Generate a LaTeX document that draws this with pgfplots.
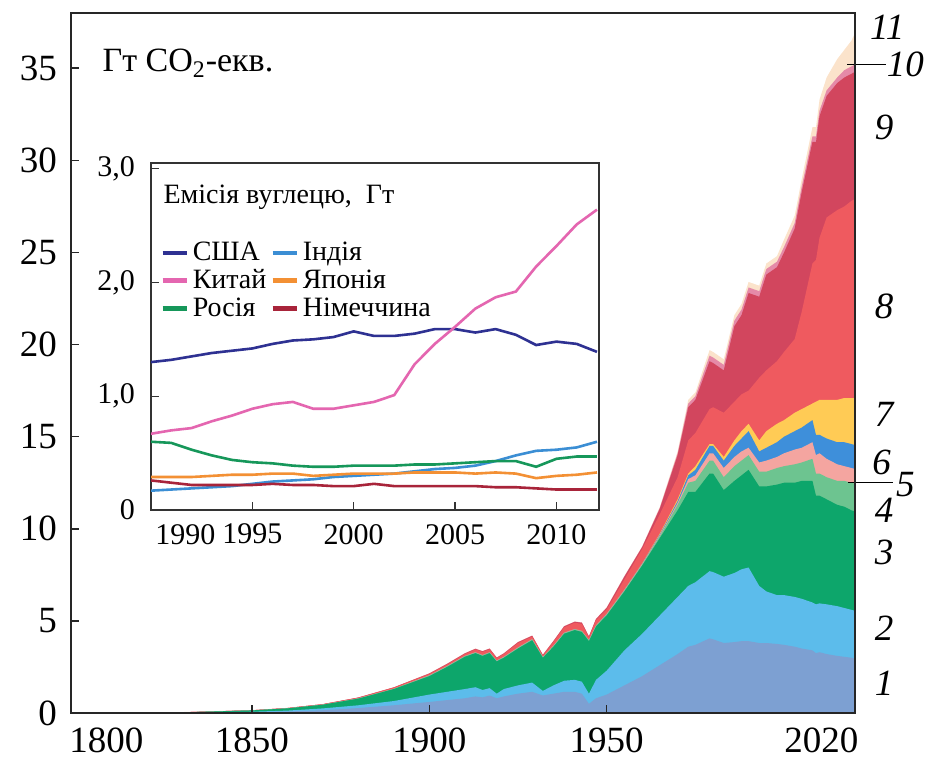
\documentclass[border=0pt]{standalone}
\usepackage{pgfplots}
\pgfplotsset{compat=1.18}
\usepackage{pgfplotstable}
\usepackage{fontspec}
\setmainfont{Liberation Serif}

\definecolor{cA}{HTML}{7DA0D2}
\definecolor{cB}{HTML}{5CBCEB}
\definecolor{cC}{HTML}{0DA66B}
\definecolor{cD}{HTML}{6DC490}
\definecolor{cE}{HTML}{F4A5A0}
\definecolor{cF}{HTML}{3E8FDA}
\definecolor{cG}{HTML}{FFCB55}
\definecolor{cH}{HTML}{EF5A5F}
\definecolor{cI}{HTML}{D2465E}
\definecolor{cJ}{HTML}{E58AA8}
\definecolor{cK}{HTML}{FBE3CB}

\definecolor{lUSA}{HTML}{2E3192}
\definecolor{lCHN}{HTML}{E466B0}
\definecolor{lRUS}{HTML}{16975A}
\definecolor{lIND}{HTML}{3B8ED4}
\definecolor{lJPN}{HTML}{F39034}
\definecolor{lGER}{HTML}{A8243A}

% cumulative upper boundaries of the 11 stacked areas (Gt CO2-eq.)
\pgfplotstableread{
year c1 c2 c3 c4 c5 c6 c7 c8 c9 c10 c11
1799 0 0 0 0 0 0 0 0 0 0 0
1830 0.01 0.02 0.03 0.03 0.03 0.03 0.03 0.04 0.04 0.04 0.05
1850 0.04 0.07 0.14 0.14 0.14 0.14 0.14 0.15 0.15 0.15 0.16
1860 0.08 0.13 0.25 0.25 0.25 0.25 0.25 0.27 0.27 0.27 0.28
1870 0.15 0.25 0.45 0.45 0.45 0.45 0.45 0.48 0.48 0.48 0.49
1880 0.27 0.42 0.78 0.79 0.79 0.79 0.79 0.83 0.84 0.84 0.85
1890 0.42 0.65 1.30 1.31 1.31 1.31 1.32 1.38 1.39 1.39 1.40
1900 0.60 1.00 2.00 2.02 2.03 2.04 2.05 2.12 2.14 2.15 2.16
1905 0.70 1.15 2.50 2.52 2.53 2.54 2.55 2.63 2.66 2.67 2.68
1910 0.80 1.30 3.05 3.07 3.08 3.09 3.10 3.20 3.23 3.24 3.25
1913 0.90 1.40 3.25 3.27 3.28 3.29 3.30 3.45 3.48 3.49 3.50
1915 0.85 1.25 3.10 3.12 3.13 3.14 3.15 3.32 3.35 3.36 3.37
1917 0.95 1.35 3.25 3.27 3.28 3.29 3.30 3.46 3.49 3.50 3.51
1919 0.80 1.05 2.80 2.82 2.83 2.84 2.85 2.98 3.00 3.01 3.02
1921 0.90 1.30 3.00 3.02 3.03 3.04 3.05 3.20 3.23 3.24 3.25
1925 1.05 1.50 3.50 3.53 3.54 3.55 3.56 3.80 3.84 3.85 3.86
1929 1.15 1.65 3.95 3.98 3.99 4.00 4.01 4.15 4.19 4.20 4.21
1932 0.95 1.20 3.00 3.02 3.03 3.04 3.05 3.12 3.15 3.16 3.17
1935 1.05 1.50 3.60 3.63 3.64 3.65 3.66 3.86 3.90 3.91 3.92
1938 1.15 1.75 4.30 4.33 4.34 4.35 4.36 4.65 4.70 4.71 4.72
1941 1.15 1.80 4.50 4.53 4.54 4.55 4.56 4.90 4.95 4.96 4.97
1943 1.05 1.70 4.40 4.43 4.44 4.45 4.46 4.84 4.90 4.91 4.92
1945 0.50 1.05 3.90 3.93 3.94 3.95 3.96 4.10 4.15 4.16 4.17
1947 0.80 1.80 4.70 4.73 4.74 4.75 4.76 5.05 5.10 5.11 5.12
1950 1.00 2.30 5.30 5.33 5.35 5.37 5.39 5.62 5.70 5.72 5.74
1955 1.50 3.40 6.60 6.64 6.66 6.68 6.70 7.25 7.40 7.42 7.45
1960 2.00 4.30 8.00 8.05 8.08 8.10 8.12 8.90 9.00 9.02 9.05
1965 2.60 5.30 9.50 9.60 9.65 9.70 9.75 10.80 11.10 11.15 11.20
1970 3.20 6.30 11.00 11.30 11.40 11.50 11.60 12.80 14.00 14.10 14.20
1973 3.60 6.90 12.00 12.50 12.70 12.90 13.00 14.80 16.60 16.80 17.00
1975 3.70 7.10 12.00 12.60 12.90 13.20 13.40 15.20 17.00 17.20 17.40
1979 4.05 7.70 13.00 13.70 14.10 14.50 14.60 16.50 19.10 19.40 19.70
1980 4.00 7.65 13.00 13.70 14.10 14.50 14.60 16.60 19.00 19.30 19.60
1983 3.80 7.40 12.10 12.80 13.30 13.70 13.90 16.30 18.60 18.90 19.20
1986 3.85 7.60 12.60 13.40 13.90 14.50 14.80 16.90 21.00 21.30 21.60
1988 3.90 7.80 12.90 13.70 14.20 14.90 15.30 17.30 21.60 21.90 22.20
1990 3.90 7.90 13.20 14.00 14.40 15.30 15.70 17.50 22.80 23.10 23.40
1993 3.80 6.90 12.30 13.10 13.60 14.20 14.80 18.20 22.60 22.90 23.20
1995 3.80 6.60 12.30 13.10 13.70 14.40 15.30 18.60 23.80 24.10 24.40
1998 3.75 6.40 12.40 13.30 13.90 14.70 15.70 19.10 24.20 24.50 24.80
2000 3.70 6.40 12.50 13.40 14.10 15.00 15.90 19.60 25.00 25.30 25.70
2003 3.60 6.30 12.50 13.50 14.30 15.30 16.30 20.30 26.30 26.60 27.00
2005 3.50 6.20 12.60 13.60 14.40 15.50 16.50 21.80 28.30 28.60 29.00
2008 3.40 6.00 12.60 13.80 14.70 15.90 16.80 24.40 31.00 31.30 31.80
2009 3.25 5.90 11.80 13.00 14.00 15.10 16.90 24.60 31.00 31.30 31.80
2010 3.30 5.95 11.80 13.00 14.10 15.10 17.00 25.80 32.40 32.70 33.30
2012 3.20 5.90 11.60 12.80 13.80 14.90 17.00 26.90 33.50 33.80 34.50
2015 3.10 5.80 11.30 12.60 13.50 14.70 17.00 27.30 34.20 34.50 35.50
2017 3.05 5.70 11.20 12.60 13.40 14.70 17.10 27.50 34.50 34.90 36.00
2019 3.00 5.60 11.00 12.50 13.30 14.60 17.10 27.80 34.70 35.10 36.50
2020 2.95 5.55 10.95 12.45 13.25 14.55 17.10 27.90 34.80 35.20 36.90
}\maintab

% inset: carbon emissions, Gt
\pgfplotstableread{
year usa china russia india japan germany
1990 1.30 0.67 0.60 0.17 0.29 0.26
1991 1.32 0.70 0.59 0.18 0.29 0.24
1992 1.35 0.72 0.53 0.19 0.29 0.22
1993 1.38 0.78 0.48 0.20 0.30 0.22
1994 1.40 0.83 0.44 0.21 0.31 0.22
1995 1.42 0.89 0.42 0.23 0.31 0.22
1996 1.46 0.93 0.41 0.25 0.32 0.23
1997 1.49 0.95 0.39 0.26 0.32 0.22
1998 1.50 0.89 0.38 0.27 0.30 0.22
1999 1.52 0.89 0.38 0.29 0.31 0.21
2000 1.57 0.92 0.39 0.30 0.32 0.21
2001 1.53 0.95 0.39 0.31 0.32 0.23
2002 1.53 1.01 0.39 0.32 0.32 0.21
2003 1.55 1.28 0.40 0.34 0.33 0.21
2004 1.59 1.46 0.40 0.36 0.33 0.21
2005 1.59 1.61 0.41 0.37 0.33 0.21
2006 1.56 1.77 0.42 0.39 0.32 0.21
2007 1.59 1.87 0.43 0.43 0.33 0.20
2008 1.54 1.92 0.43 0.48 0.32 0.20
2009 1.45 2.14 0.38 0.52 0.28 0.19
2010 1.48 2.32 0.45 0.53 0.30 0.18
2011 1.46 2.51 0.47 0.55 0.31 0.18
2012 1.39 2.64 0.47 0.60 0.33 0.18
}\insettab

\begin{document}
\begin{tikzpicture}
\begin{axis}[
  at={(0,0)}, anchor=south west,
  scale only axis, width=392pt, height=350pt,
  xmin=1799, xmax=2020, ymin=0, ymax=38,
  axis line style={line width=0.9pt, black!85},
  xtick={1850,1900,1950}, xticklabels={1850,1900,1950},
  extra x ticks={1809,2010.5}, extra x tick labels={1800,2020},
  extra x tick style={major tick length=0pt},
  ytick={0,5,10,15,20,25,30,35}, yticklabels={0,5,10,15,20,25,30,35},
  tick align=inside, major tick length=4pt,
  xtick pos=bottom, ytick pos=left,
  tick style={line width=0.8pt, black!85},
  ticklabel style={font=\fontsize{18.5}{20}\selectfont},
  yticklabel style={xshift=-3.5pt},
  xticklabel style={yshift=-4pt},
  clip=false, axis on top,
]
\addplot[fill=cK, draw=none] table[x=year,y=c11]{\maintab} \closedcycle;
\addplot[fill=cJ, draw=none] table[x=year,y=c10]{\maintab} \closedcycle;
\addplot[fill=cI, draw=none] table[x=year,y=c9]{\maintab} \closedcycle;
\addplot[fill=cH, draw=none] table[x=year,y=c8]{\maintab} \closedcycle;
\addplot[fill=cG, draw=none] table[x=year,y=c7]{\maintab} \closedcycle;
\addplot[fill=cF, draw=none] table[x=year,y=c6]{\maintab} \closedcycle;
\addplot[fill=cE, draw=none] table[x=year,y=c5]{\maintab} \closedcycle;
\addplot[fill=cD, draw=none] table[x=year,y=c4]{\maintab} \closedcycle;
\addplot[fill=cC, draw=none] table[x=year,y=c3]{\maintab} \closedcycle;
\addplot[fill=cB, draw=none] table[x=year,y=c2]{\maintab} \closedcycle;
\addplot[fill=cA, draw=none] table[x=year,y=c1]{\maintab} \closedcycle;

\node[anchor=base west, inner sep=0pt, font=\fontsize{17}{18}\selectfont] at (axis cs:1807.8,34.8) {Гт CO\textsubscript{2}-екв.};

\begin{scope}[every node/.style={font=\itshape\fontsize{18.5}{20}\selectfont}]
\node at (axis cs:2029.1,37.2) {11};
\node at (axis cs:2034.2,35.2) {10};
\node at (axis cs:2028.2,31.8) {9};
\node at (axis cs:2028.2,22.1) {8};
\node at (axis cs:2028.2,16.2) {7};
\node at (axis cs:2027.5,13.6) {6};
\node at (axis cs:2034.2,12.4) {5};
\node at (axis cs:2028.2,11.0) {4};
\node at (axis cs:2028.2,8.7) {3};
\node at (axis cs:2028.2,4.6) {2};
\node at (axis cs:2028.2,1.6) {1};
\end{scope}
\draw[line width=0.7pt] (axis cs:2017.8,35.2) -- (axis cs:2028.7,35.2);
\draw[line width=0.7pt] (axis cs:2018.0,12.5) -- (axis cs:2030.6,12.5);
\end{axis}

\begin{axis}[
  at={(40pt,101.5pt)}, anchor=south west,
  scale only axis, width=224pt, height=173.5pt,
  xmin=1990, xmax=2012.1, ymin=0, ymax=3.05,
  axis background/.style={fill=white},
  axis line style={line width=0.7pt, black!80},
  xtick={1995,2000,2005,2010}, xticklabels={1995,2000,2005,2010},
  extra x ticks={1991.7}, extra x tick labels={1990},
  extra x tick style={major tick length=0pt},
  ytick={0,1,2,3}, yticklabels={0,{1,0},{2,0},{3,0}},
  tick align=inside, major tick length=4pt,
  xtick pos=bottom, ytick pos=left,
  tick style={line width=0.7pt, black!80},
  ticklabel style={font=\fontsize{15}{16}\selectfont},
  yticklabel style={xshift=-4.5pt},
  xticklabel style={yshift=-3.5pt},
  legend columns=2,
  legend cell align=left,
  legend style={at={(0.02,0.785)}, anchor=north west, draw=none, fill=none,
    font=\fontsize{14}{14}\selectfont, column sep=0pt, row sep=-1pt,
    inner sep=0pt},
  legend image code/.code={\draw[#1, line width=2.2pt] (0pt,0pt) -- (12pt,0pt);},
  every axis plot/.append style={line width=1.3pt},
  clip=true,
]
\addplot[color=lUSA] table[x=year,y=usa]{\insettab};
\addlegendentry{США}
\addplot[color=lIND] table[x=year,y=india]{\insettab};
\addlegendentry{Індія}
\addplot[color=lCHN] table[x=year,y=china]{\insettab};
\addlegendentry{Китай}
\addplot[color=lJPN] table[x=year,y=japan]{\insettab};
\addlegendentry{Японія}
\addplot[color=lRUS] table[x=year,y=russia]{\insettab};
\addlegendentry{Росія}
\addplot[color=lGER] table[x=year,y=germany]{\insettab};
\addlegendentry{Німеччина}
\node[anchor=base west, inner sep=0pt, font=\fontsize{14}{15}\selectfont] at (axis cs:1990.6,2.69) {Емісія вуглецю,\ \ Гт};
\end{axis}
\path (-35.5pt,-24.5pt) rectangle (430pt,356.5pt);
\end{tikzpicture}
\end{document}
